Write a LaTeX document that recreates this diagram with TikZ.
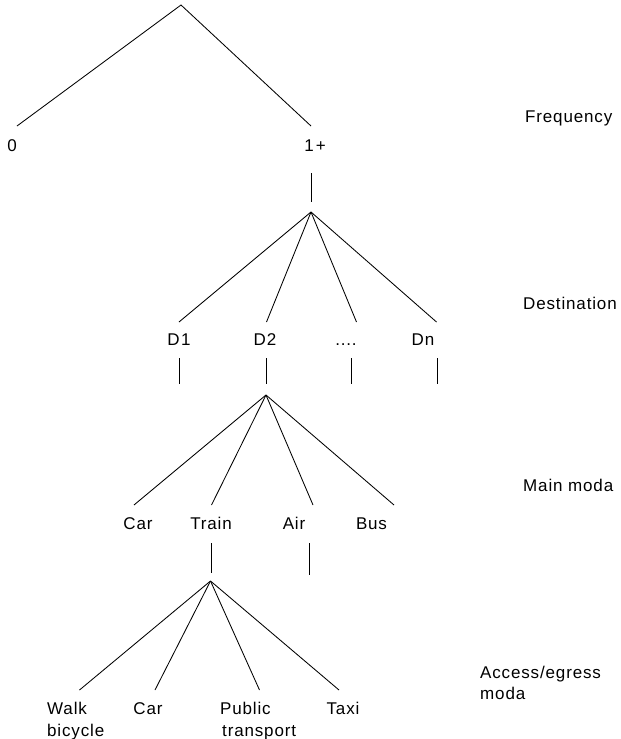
\documentclass[tikz,border=0pt]{standalone}
\usepackage{fontspec}
\newfontfamily\lblfont[LetterSpace=5]{Liberation Sans}
\begin{document}
\begin{tikzpicture}[x=1pt,y=-1pt,
  lbl/.style={anchor=base, inner sep=0pt, font=\lblfont\fontsize{17}{21}\selectfont},
  lvl/.style={lbl, anchor=base west, align=left},
  edge/.style={line width=0.85pt, black}]
\useasboundingbox (0,0) rectangle (621,739);
% apex coordinates
\coordinate (a0) at (181,5);
\coordinate (a1) at (311,212);
\coordinate (a2) at (266,395);
\coordinate (a3) at (210.5,581);
% level 1
\coordinate (e0) at (17,126);
\coordinate (e1) at (311,126);
\node[lbl] (n0) at (12,151) {0};
\node[lbl] (n1) at (315,151) {1\kern2pt+};
\node[lvl] (freq) at (525,122) {Frequency};
\coordinate (v1t) at (311,173);
\coordinate (v1b) at (311,202);
% level 2
\coordinate (d1e) at (179,322);
\coordinate (d2e) at (266.5,322);
\coordinate (d3e) at (356.5,322);
\coordinate (d4e) at (436.5,322);
\node[lbl] (d1) at (179,345) {D\kern1.5pt1};
\node[lbl] (d2) at (265,345) {D2};
\node[lbl] (d3) at (346,345) {....};
\node[lbl] (d4) at (423,345) {Dn};
\node[lvl] (dest) at (523,309) {Destination};
\coordinate (u1t) at (179,358);  \coordinate (u1b) at (179,384);
\coordinate (u2t) at (266,358);  \coordinate (u2b) at (266,384);
\coordinate (u3t) at (351.5,358);\coordinate (u3b) at (351.5,384);
\coordinate (u4t) at (437,358);  \coordinate (u4b) at (437,384);
% level 3
\coordinate (m1e) at (134,505);
\coordinate (m2e) at (211.5,505);
\coordinate (m3e) at (313,505);
\coordinate (m4e) at (394,505);
\node[lbl] (car) at (138,529) {Car};
\node[lbl] (train) at (211,529) {Train};
\node[lbl] (air) at (294,529) {Air};
\node[lbl] (bus) at (371.5,529) {Bus};
\node[lvl] (mainm) at (523,491) {Main moda};
\coordinate (w1t) at (211,543);  \coordinate (w1b) at (211,573);
\coordinate (w2t) at (309,543);  \coordinate (w2b) at (309,575);
% level 4
\coordinate (b1e) at (79.5,690);
\coordinate (b2e) at (155,690);
\coordinate (b3e) at (259.5,690);
\coordinate (b4e) at (339,690);
\node[lvl] (walk) at (47,714) {Walk};
\node[lvl] (bicy) at (47,736) {bicycle};
\node[lbl] (car2) at (148,714) {Car};
\node[lvl] (pub) at (220,714) {Public};
\node[lvl] (trans) at (222,736) {transport};
\node[lbl] (taxi) at (343,714) {Taxi};
\node[lvl] (acc) at (480,678) {Access/egress};
\node[lvl] (accm) at (480,699) {moda};
% connectors
\draw[edge] (e0) -- (a0) -- (e1);
\draw[edge] (v1t) -- (v1b);
\foreach \e in {d1e,d2e,d3e,d4e} \draw[edge] (a1) -- (\e);
\foreach \t/\b in {u1t/u1b,u2t/u2b,u3t/u3b,u4t/u4b} \draw[edge] (\t) -- (\b);
\foreach \e in {m1e,m2e,m3e,m4e} \draw[edge] (a2) -- (\e);
\draw[edge] (w1t) -- (w1b);
\draw[edge] (w2t) -- (w2b);
\foreach \e in {b1e,b2e,b3e,b4e} \draw[edge] (a3) -- (\e);
\end{tikzpicture}
\end{document}
